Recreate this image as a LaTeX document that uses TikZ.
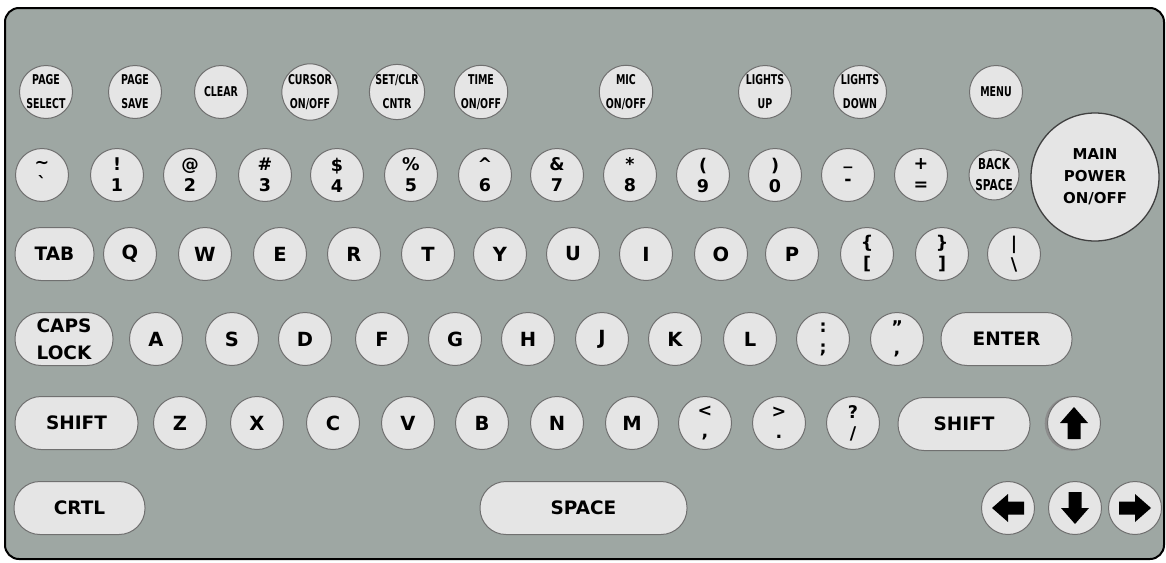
\documentclass[tikz,border=0pt]{standalone}
\usepackage{fontspec}
\setmainfont{DejaVu Sans}
\newfontfamily\keyfont{DejaVu Sans}
\newfontfamily\condfont{DejaVu Sans}[FakeStretch=0.7]
\definecolor{panel}{RGB}{158,167,163}
\definecolor{keyfill}{RGB}{229,229,229}
\definecolor{keyline}{RGB}{112,112,112}
\newcommand\kbarrow{\fill[black] (0,-16) -- (14,0) -- (6.5,0) -- (6.5,16) -- (-6.5,16) -- (-6.5,0) -- (-14,0) -- cycle;}
\tikzset{
  kbkey/.style={circle,draw=keyline,fill=keyfill,line width=1pt,minimum size=53pt,inner sep=0pt,align=center,
    font=\keyfont\bfseries\fontsize{19.5}{21}\selectfont},
  numkey/.style={kbkey,font=\keyfont\bfseries\fontsize{17.5}{21}\selectfont},
  fnkey/.style={kbkey,font=\condfont\bfseries\fontsize{13.5}{24}\selectfont},
  pill/.style={rectangle,rounded corners=26pt,draw=keyline,fill=keyfill,line width=1pt,minimum height=53pt,
    inner sep=0pt,align=center,font=\keyfont\bfseries\fontsize{18.5}{27}\selectfont},
}
\begin{document}
\begin{tikzpicture}[x=1pt,y=-1pt]
\useasboundingbox (0,0) rectangle (1166,562);
\fill[white] (0,0) rectangle (1166,562);
\draw[line width=2pt,fill=panel,rounded corners=14pt] (5,8) rectangle (1164,559);
% top row
\node[fnkey] (psel) at (46,92) {PAGE\\SELECT};
\node[fnkey] (psave) at (135,92) {PAGE\\SAVE};
\node[fnkey] (clear) at (221,92) {CLEAR};
\node[fnkey] (cursor) at (310,92) {CURSOR\\ON/OFF};
\node[fnkey] (setclr) at (397,92) {SET/CLR\\CNTR};
\node[fnkey] (time) at (481,92) {TIME\\ON/OFF};
\node[fnkey] (mic) at (626,92) {MIC\\ON/OFF};
\node[fnkey] (lup) at (765,92) {LIGHTS\\UP};
\node[fnkey] (ldown) at (860,92) {LIGHTS\\DOWN};
\node[fnkey] (menu) at (996,92) {MENU};
\node[circle,draw=black!75,fill=keyfill,line width=1.3pt,minimum size=128pt,inner sep=0pt,align=center,
  font=\keyfont\bfseries\fontsize{15}{22}\selectfont] (power) at (1095,177) {MAIN\\POWER\\ON/OFF};
% number row
\node[numkey] (tilde) at (42,175) {\textasciitilde\\\textasciigrave};
\node[numkey] (k1) at (117,175) {!\\1};
\node[numkey] (k2) at (190,175) {@\\2};
\node[numkey] (k3) at (265,175) {\#\\3};
\node[numkey] (k4) at (337,175) {\$\\4};
\node[numkey] (k5) at (411,175) {\%\\5};
\node[numkey] (k6) at (485,175) {\textasciicircum\\6};
\node[numkey] (k7) at (557,175) {\&\\7};
\node[numkey] (k8) at (630,175) {*\\8};
\node[numkey] (k9) at (703,175) {(\\9};
\node[numkey] (k0) at (775,175) {)\\0};
\node[numkey] (minus) at (848,175) {\_\\-};
\node[numkey] (plus) at (921,175) {+\\=};
\node[kbkey,minimum size=50pt,font=\condfont\bfseries\fontsize{15}{21}\selectfont] (bksp) at (994,175) {BACK\\SPACE};
% row 3
\node[pill,minimum width=79pt] (tab) at (54.5,254) {TAB};
\node[kbkey] (q) at (130,254) {Q};
\node[kbkey] (w) at (205,254) {W};
\node[kbkey] (e) at (280,254) {E};
\node[kbkey] (r) at (354,254) {R};
\node[kbkey] (t) at (428,254) {T};
\node[kbkey] (y) at (500,254) {Y};
\node[kbkey] (u) at (573,254) {U};
\node[kbkey] (i) at (646,254) {I};
\node[kbkey] (o) at (721,254) {O};
\node[kbkey] (p) at (792,254) {P};
\node[numkey] (lbr) at (867,254) {\{\\{[}};
\node[numkey] (rbr) at (942,254) {\}\\{]}};
\node[numkey] (bsl) at (1014,254) {|\\\textbackslash};
% row 4
\node[pill,minimum width=98pt] (caps) at (64,339) {CAPS\\LOCK};
\node[kbkey] (a) at (156,339) {A};
\node[kbkey] (s) at (232,339) {S};
\node[kbkey] (d) at (305,339) {D};
\node[kbkey] (f) at (382,339) {F};
\node[kbkey] (g) at (455,339) {G};
\node[kbkey] (h) at (528,339) {H};
\node[kbkey] (j) at (602,339) {J};
\node[kbkey] (k) at (675,339) {K};
\node[kbkey] (l) at (750,339) {L};
\node[numkey] (semi) at (823,339) {:\\;};
\node[numkey] (quote) at (897,339) {”\\,};
\node[pill,minimum width=131pt] (enter) at (1006.5,339) {ENTER};
% row 5
\node[pill,minimum width=123pt] (lshift) at (76.5,423) {SHIFT};
\node[kbkey] (z) at (180,423) {Z};
\node[kbkey] (x) at (257,423) {X};
\node[kbkey] (c) at (333,423) {C};
\node[kbkey] (v) at (408,423) {V};
\node[kbkey] (b) at (482,423) {B};
\node[kbkey] (n) at (557,423) {N};
\node[kbkey] (m) at (632,423) {M};
\node[numkey] (lt) at (705,423) {<\\,};
\node[numkey] (gt) at (779,423) {>\\.};
\node[numkey] (qm) at (853,423) {?\\/};
\node[pill,minimum width=132pt] (rshift) at (964,424) {SHIFT};
\fill[black!45] (1072,423.5) circle (27.3pt);
\node[kbkey] (up) at (1074,423) {};
\begin{scope}[shift={(up.center)}]\kbarrow\end{scope}
% row 6
\node[pill,minimum width=131pt] (ctrl) at (79.5,508) {CRTL};
\node[pill,minimum width=207pt] (space) at (583.5,508) {SPACE};
\node[kbkey] (left) at (1008,508) {};
\node[kbkey] (down) at (1075,508) {};
\node[kbkey] (right) at (1135,508) {};
\begin{scope}[shift={(left.center)},rotate=90]\kbarrow\end{scope}
\begin{scope}[shift={(down.center)},rotate=180]\kbarrow\end{scope}
\begin{scope}[shift={(right.center)},rotate=-90]\kbarrow\end{scope}
\end{tikzpicture}
\end{document}
